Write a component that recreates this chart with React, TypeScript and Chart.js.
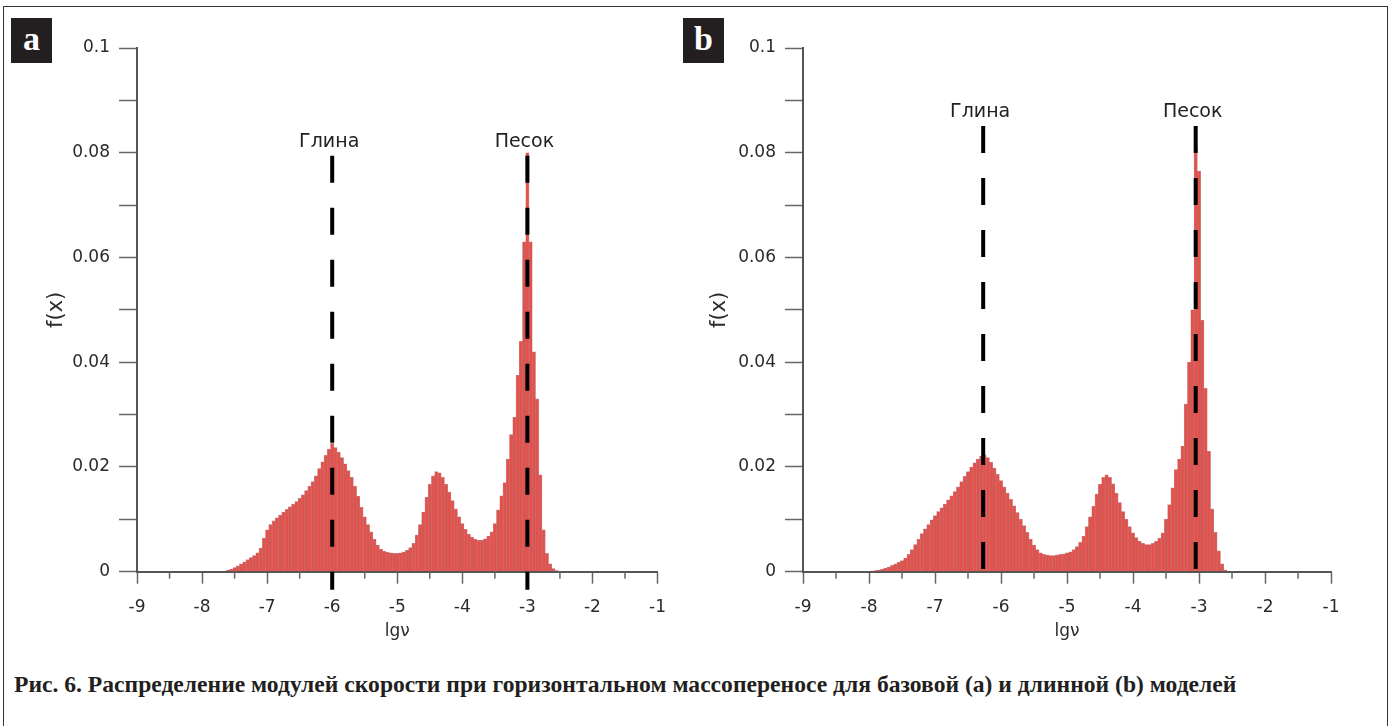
import React, { useEffect, useRef } from "react";
import { Chart, registerables } from "chart.js";

Chart.register(...registerables);

// ---------- data ----------
const BIN = 0.05;

// panel (a): bin centres start at -7.60, step 0.05
const startA = -7.6;
const valuesA = [
  0.0003, 0.0005, 0.0008, 0.0011, 0.0015, 0.0019, 0.0023, 0.0027, 0.0031, 0.0036, // -7.60 .. -7.15
  0.0045, 0.0064, 0.008, 0.009, 0.0097, 0.0103, 0.0108, 0.0114, 0.0119, 0.0124, // -7.10 .. -6.65
  0.0129, 0.0134, 0.014, 0.0147, 0.0155, 0.0163, 0.0172, 0.0183, 0.0197, 0.021, // -6.60 .. -6.15
  0.0222, 0.0234, 0.0245, 0.0237, 0.0228, 0.0218, 0.0206, 0.0193, 0.018, 0.0163, // -6.10 .. -5.65
  0.0144, 0.0123, 0.0105, 0.009, 0.0076, 0.0062, 0.0051, 0.0043, 0.0039, 0.0037, // -5.60 .. -5.15
  0.0036, 0.0035, 0.0035, 0.0036, 0.0038, 0.0041, 0.0046, 0.0054, 0.007, 0.009, // -5.10 .. -4.65
  0.0114, 0.0142, 0.0167, 0.0183, 0.0191, 0.0189, 0.018, 0.0167, 0.0152, 0.0136, // -4.60 .. -4.15
  0.012, 0.0105, 0.0092, 0.0081, 0.0072, 0.0066, 0.0062, 0.006, 0.006, 0.0063, // -4.10 .. -3.65
  0.0068, 0.0076, 0.0092, 0.0118, 0.0145, 0.017, 0.0215, 0.0262, 0.0295, 0.0375, // -3.60 .. -3.15
  0.044, 0.063, 0.08, 0.063, 0.042, 0.033, 0.0185, 0.008, 0.0035, 0.0015, // -3.10 .. -2.65
  0.0006, 0.0002, // -2.60 .. -2.55
];

// panel (b): bin centres start at -7.95, step 0.05
const startB = -7.95;
const valuesB = [
  0.0001, 0.0002, 0.0003, 0.0005, 0.0007, 0.0009, 0.0012, 0.0015, 0.0018, 0.0021, // -7.95 .. -7.50
  0.0026, 0.0033, 0.0042, 0.0052, 0.0062, 0.0073, 0.0082, 0.009, 0.0099, 0.0107, // -7.45 .. -7.00
  0.0115, 0.0122, 0.0129, 0.0137, 0.0145, 0.0153, 0.0162, 0.0172, 0.0182, 0.0191, // -6.95 .. -6.50
  0.02, 0.0208, 0.0215, 0.0221, 0.0223, 0.0218, 0.0209, 0.0198, 0.0186, 0.0174, // -6.45 .. -6.00
  0.0162, 0.015, 0.0138, 0.0126, 0.0113, 0.01, 0.0088, 0.0075, 0.0062, 0.0051, // -5.95 .. -5.50
  0.0042, 0.0036, 0.0033, 0.0032, 0.0031, 0.0031, 0.0032, 0.0033, 0.0034, 0.0036, // -5.45 .. -5.00
  0.0038, 0.0042, 0.0048, 0.0056, 0.0068, 0.0086, 0.0105, 0.0125, 0.0148, 0.0167, // -4.95 .. -4.50
  0.018, 0.0185, 0.018, 0.0168, 0.015, 0.0132, 0.0115, 0.01, 0.0086, 0.0074, // -4.45 .. -4.00
  0.0065, 0.0058, 0.0054, 0.0052, 0.0052, 0.0054, 0.0058, 0.0064, 0.0074, 0.01, // -3.95 .. -3.50
  0.0128, 0.016, 0.0195, 0.0215, 0.024, 0.032, 0.04, 0.05, 0.081, 0.0765, // -3.45 .. -3.00
  0.048, 0.035, 0.023, 0.012, 0.0075, 0.004, 0.0015, 0.0003, // -2.95 .. -2.60
];

const markerLabels = ["Глина", "Песок"];
const markersA = [-6, -3];
const markersB = [-6.27, -3.05];

const X_MIN = -9;
const X_MAX = -1;
const Y_MIN = 0;
const Y_MAX = 0.1;

const CAPTION =
  "Рис. 6. Распределение модулей скорости при горизонтальном массопереносе для базовой (a) и длинной (b) моделей";

Chart.defaults.font.family = "'DejaVu Sans', 'Liberation Sans', sans-serif";

function toPoints(start: number, vals: number[]) {
  return vals.map((v, i) => ({ x: +(start + i * BIN).toFixed(2), y: v }));
}

const annotPlugin = {
  id: "annot",
  afterDraw(chart: any, _args: any, opts: any) {
    const { ctx, scales } = chart;
    const xs = scales.x;
    const ys = scales.y;
    const bottom = ys.getPixelForValue(0);
    ctx.save();
    // minor ticks on x axis at half units
    ctx.strokeStyle = "#666";
    ctx.lineWidth = 1.5;
    for (let v = X_MIN + 0.5; v < X_MAX; v += 1) {
      const px = xs.getPixelForValue(v);
      ctx.beginPath();
      ctx.moveTo(px, bottom);
      ctx.lineTo(px, bottom + 7);
      ctx.stroke();
    }
    // dashed marker lines and labels
    const labelY = ys.getPixelForValue(opts.labelLevel);
    (opts.markers as number[]).forEach((m, i) => {
      const px = xs.getPixelForValue(m);
      ctx.setLineDash([27, 25]);
      ctx.strokeStyle = "#000";
      ctx.lineWidth = 4;
      ctx.beginPath();
      ctx.moveTo(px, labelY + 14);
      ctx.lineTo(px, bottom + 18);
      ctx.stroke();
      ctx.setLineDash([]);
      ctx.fillStyle = "#222";
      ctx.font = "19px 'DejaVu Sans', sans-serif";
      ctx.textAlign = "center";
      ctx.textBaseline = "middle";
      ctx.fillText(opts.labels[i], px - 3, labelY);
    });
    ctx.restore();
  },
};

type PanelProps = {
  start: number;
  values: number[];
  markers: number[];
  left: number;
  width: number;
  yAxisWidth: number;
  rightPad: number;
  titlePad: number;
  labelLevel: number;
};

const CANVAS_H = 650;

function Panel(p: PanelProps) {
  const ref = useRef<HTMLCanvasElement>(null);
  useEffect(() => {
    const chart = new Chart(ref.current as HTMLCanvasElement, {
      type: "bar",
      data: {
        datasets: [
          {
            data: toPoints(p.start, p.values) as any,
            backgroundColor: "#e2514c",
            borderColor: "rgba(140,30,30,0.5)",
            borderWidth: 0.6,
            barPercentage: 1,
            categoryPercentage: 1,
          },
        ],
      },
      options: {
        responsive: false,
        animation: false,
        layout: { padding: { left: 0, top: 48, right: p.rightPad, bottom: 8.3 } },
        plugins: {
          legend: { display: false },
          tooltip: { enabled: false },
          annot: { markers: p.markers, labels: markerLabels, labelLevel: p.labelLevel },
        } as any,
        scales: {
          x: {
            type: "linear",
            min: X_MIN,
            max: X_MAX,
            offset: false,
            z: 1,
            grid: {
              display: true,
              drawOnChartArea: false,
              drawTicks: true,
              tickLength: 12,
              tickColor: "#666",
              tickWidth: 1.5,
              offset: false,
            },
            border: { display: true, color: "#555", width: 2 },
            ticks: {
              stepSize: 1,
              padding: 14,
              color: "#2a2a2a",
              font: { size: 17 },
              maxRotation: 0,
              autoSkip: false,
              callback: (v: any) => String(v),
            },
            title: {
              display: true,
              text: "lgν",
              color: "#2a2a2a",
              font: { size: 17 },
              padding: { top: 0, bottom: 0 },
            },
            afterFit: (s: any) => {
              s.height = 70;
            },
          } as any,
          y: {
            min: Y_MIN,
            max: Y_MAX,
            z: 1,
            grid: {
              display: true,
              drawOnChartArea: false,
              drawTicks: true,
              tickLength: 18,
              tickColor: "#666",
              tickWidth: 1.5,
            },
            border: { display: true, color: "#555", width: 2 },
            ticks: {
              stepSize: 0.01,
              padding: 9,
              color: "#2a2a2a",
              font: { size: 17 },
              autoSkip: false,
              callback: (v: any) => {
                const k = Math.round(Number(v) * 100);
                if (k % 2 !== 0) return "";
                if (k === 0) return "0";
                if (k === 10) return "0.1";
                return (k / 100).toFixed(2);
              },
            },
            title: {
              display: true,
              text: "f(x)",
              color: "#2a2a2a",
              font: { size: 21 },
              padding: { top: p.titlePad, bottom: 0 },
            },
            afterFit: (s: any) => {
              s.width = p.yAxisWidth;
            },
          } as any,
        },
      },
      plugins: [annotPlugin],
    });
    return () => chart.destroy();
  }, []);
  return (
    <canvas
      ref={ref}
      width={p.width}
      height={CANVAS_H}
      style={{ position: "absolute", left: p.left, top: 0, width: p.width, height: CANVAS_H }}
    />
  );
}

const boxStyle: React.CSSProperties = {
  position: "absolute",
  top: 18,
  width: 41,
  height: 45,
  background: "#231f20",
  color: "#fff",
  fontFamily: "'Liberation Serif', 'DejaVu Serif', serif",
  fontWeight: "bold",
  fontSize: 34,
  lineHeight: "42px",
  textAlign: "center",
};

export default function App() {
  return (
    <div
      style={{
        position: "absolute",
        left: 0,
        top: 0,
        width: 1391,
        height: 726,
        overflow: "hidden",
        background: "#fff",
      }}
    >
      <div
        style={{
          position: "absolute",
          left: 3,
          top: 6,
          width: 1383,
          height: 760,
          border: "1.5px solid #333",
        }}
      />
      <Panel
        start={startA}
        values={valuesA}
        markers={markersA}
        left={0}
        width={680}
        yAxisWidth={137}
        rightPad={18}
        titlePad={44.4}
        labelLevel={0.0821}
      />
      <Panel
        start={startB}
        values={valuesB}
        markers={markersB}
        left={680}
        width={711}
        yAxisWidth={123}
        rightPad={60}
        titlePad={27.4}
        labelLevel={0.0878}
      />
      <div style={{ ...boxStyle, left: 11 }}>a</div>
      <div style={{ ...boxStyle, left: 683 }}>b</div>
      <div
        style={{
          position: "absolute",
          left: 14,
          top: 671,
          fontFamily: "'Liberation Serif', 'Times New Roman', serif",
          fontWeight: "bold",
          fontSize: 23.6,
          lineHeight: "27px",
          color: "#231f20",
          whiteSpace: "nowrap",
        }}
      >
        {CAPTION}
      </div>
    </div>
  );
}
